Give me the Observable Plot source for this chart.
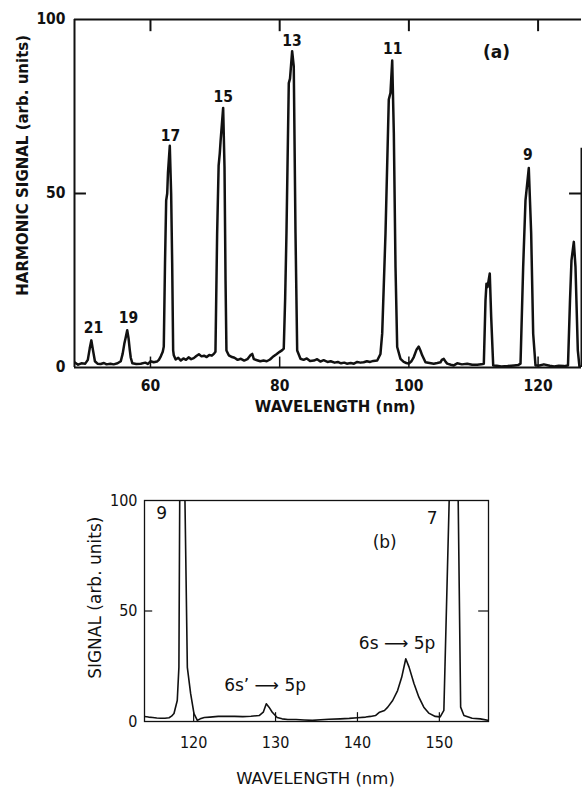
<!DOCTYPE html>
<html><head><meta charset="utf-8">
<script src="https://cdn.jsdelivr.net/npm/d3@7"></script>
<script src="https://cdn.jsdelivr.net/npm/@observablehq/plot@0.6"></script>
<style>
html,body{margin:0;padding:0;background:#fff;}
body{width:582px;height:789px;overflow:hidden;}
svg{display:block;}
</style></head><body><div id="a"></div><div id="b"></div>
<script>
// ---------- Panel (a) data ----------
const wavelengthA = [48.24,48.8,49.3,49.9,50.3,50.6,50.85,51.1,51.4,51.8,52.3,52.8,53.2,53.8,54.3,54.9,55.4,55.7,55.95,56.15,56.4,56.6,56.8,56.95,57.2,57.8,58.5,59.2,59.6,60.0,60.5,61.0,61.3,61.6,61.9,62.06,62.25,62.43,62.59,62.71,62.99,63.2,63.36,63.51,63.61,63.9,64.3,64.7,65.1,65.5,65.9,66.3,66.7,67.1,67.5,67.9,68.3,68.7,69.1,69.5,69.85,70.06,70.32,70.55,70.73,70.85,71.25,71.46,71.62,71.76,72.12,72.5,73.0,73.5,74.0,74.5,75.0,75.5,75.75,76.0,76.5,77.0,77.5,78.0,78.5,78.9,79.5,80.0,80.4,80.63,80.85,81.05,81.41,81.6,81.93,82.18,82.45,82.71,83.22,83.7,84.2,84.7,85.3,85.8,86.3,86.8,87.4,87.9,88.5,89.0,89.5,90.0,90.4,91.0,91.5,92.0,92.5,93.0,93.5,94.0,94.5,95.1,95.6,95.87,96.38,96.89,97.15,97.42,97.67,97.93,98.19,98.7,99.2,99.6,99.98,100.4,100.76,101.2,101.53,101.8,102.06,102.57,103.2,103.85,104.4,104.89,105.1,105.4,105.7,105.93,106.5,106.95,107.48,108.2,109.03,109.8,110.57,111.2,111.6,111.86,112.01,112.17,112.52,112.74,113.05,113.6,114.3,115.3,116.3,116.9,117.28,117.69,118.05,118.56,118.93,119.24,119.6,120.2,120.9,121.8,122.5,123.2,124.0,124.63,124.94,125.17,125.53,125.79,126.15,126.41,126.72];
const signalA = [1.5,0.8,1.2,1.1,2.2,5.5,7.8,5.0,1.8,1.1,1.0,1.3,0.9,1.1,0.9,1.2,1.8,4.0,6.8,8.5,10.7,8.5,5.0,2.8,1.2,1.0,1.1,1.4,1.0,1.8,1.5,1.7,2.2,3.2,4.5,6,30,48,50,56,63.7,50,30,4.9,3.5,2.3,2.8,2.0,2.6,2.2,2.9,2.4,2.7,3.3,3.8,3.2,3.4,3.0,3.6,3.4,4.0,4.5,38.6,58,61.6,65,74.6,57.7,25,4.9,3.5,3.1,2.8,2.2,2.5,2.0,2.4,3.6,3.9,2.4,2.1,1.8,2.0,1.8,2.3,3.0,3.8,4.5,5.0,5.4,20,38.5,81.7,83,90.9,86.5,38.6,4.9,2.5,2.2,2.6,1.9,2.0,2.4,1.7,2.1,1.6,1.8,1.4,1.6,1.2,1.4,1.1,1.3,1.1,1.6,1.4,1.5,1.8,1.6,1.9,2.0,3.9,9.8,38.5,77,78.9,88.2,67.3,28.9,5.9,2.5,1.6,1.3,1.1,1.8,3.0,5.2,6.0,4.8,3.5,1.5,1.3,1.1,1.3,1.5,2.2,2.5,1.6,1.1,0.8,0.6,1.2,0.9,1.1,0.8,0.8,0.9,1.1,19.3,24.1,23.1,27.0,14.5,0.6,0.5,0.3,0.4,0.6,0.7,1.1,28.9,48,57.3,38.5,9.7,0.6,0.6,0.9,0.5,0.3,0.5,0.4,0.6,19.3,30.8,36.1,28.9,4.9,0.1,0.3];
const xDomainA = [48.24, 126.72];
const xTicksA = [60, 80, 100, 120];
const yTicksA = [0, 50, 100];
const peakTextA = ["21", "19", "17", "15", "13", "11", "9"];
const peakXA = [51.19, 56.59, 63.10, 71.25, 81.91, 97.49, 118.41];
const peakYA = [11.2, 14.1, 66.6, 77.8, 93.8, 91.5, 61.1];
const panelTagA = ["(a)"];
const panelTagXA = [113.55];
const panelTagYA = [90.4];
const yLabelA = "HARMONIC SIGNAL (arb. units)";
const xLabelA = "WAVELENGTH (nm)";

// ---------- Panel (b) data ----------
const wavelengthB = [114.0,114.5,115.0,115.5,116.0,116.5,117.0,117.3,117.6,118.0,118.2,118.3,118.6,118.94,119.23,119.63,120.04,120.45,120.8,121.3,122,123,124,125,126,127,128,128.5,128.87,129.2,129.6,130.2,130.8,131.5,132.5,133.5,134.5,135.5,136.5,137.9,139,140,141,141.6,142.2,142.7,143.3,143.7,144.3,144.9,145.4,145.9,146.3,146.9,147.5,148.1,148.7,149.5,150.1,150.55,151.2,151.75,152.3,152.6,153.0,154.0,155.0,156.0];
const signalB = [2.3,2.0,1.8,1.6,1.5,1.5,1.7,2.4,3.6,9.5,24.5,100,260,100,24.5,12.7,3.6,0.5,1.2,1.8,2.0,2.3,2.3,2.3,2.2,2.4,2.7,4.2,8.0,6.5,4.2,1.8,1.2,0.9,0.9,0.7,0.5,0.8,1.0,1.2,1.4,1.7,2.0,2.3,2.7,4.2,5.0,6.5,9.5,14,20,28.4,24.6,17.2,11,6.5,3.8,2.3,2.1,5,100,300,100,6.5,2.7,1.5,1.2,0.5];
const xDomainB = [114, 156];
const xTicksB = [120, 130, 140, 150];
const yTicksB = [0, 50, 100];
const noteTextB = ["9", "(b)", "7", "6s’ ⟶ 5p", "6s ⟶ 5p"];
const noteXB = [116.1, 143.33, 149.11, 128.72, 144.84];
const noteYB = [94.1, 81.1, 91.7, 16.3, 35.2];
const yLabelB = "SIGNAL (arb. units)";
const xLabelB = "WAVELENGTH (nm)";

// ---------- Drawing ----------
const fontC = "'DejaVu Sans Condensed', 'DejaVu Sans', sans-serif";
const fontW = "'DejaVu Sans', sans-serif";
const dataA = wavelengthA.map((w, i) => ({w, s: signalA[i]}));
const dataB = wavelengthB.map((w, i) => ({w, s: signalB[i]}));

const plotA = Plot.plot({
  width: 582, height: 440,
  marginLeft: 74, marginRight: 1, marginTop: 19, marginBottom: 73,
  style: {fontFamily: fontC, fontWeight: "bold", fontSize: "15px", color: "#111", background: "#fff", overflow: "visible"},
  x: {domain: xDomainA},
  y: {domain: [0, 100]},
  marks: [
    Plot.axisX(xTicksA, {tickSize: 0, tickPadding: 12, label: null, fontSize: 15.5}),
    Plot.axisY(yTicksA, {tickSize: 0, tickPadding: 9, label: null, fontSize: 15.5}),
    Plot.ruleY([0, 100], {strokeWidth: 2}),
    Plot.ruleX([xDomainA[0]], {strokeWidth: 2}),
    Plot.ruleX([xDomainA[1]], {y1: 0, y2: 63, strokeWidth: 2}),
    Plot.ruleX(xTicksA, {y1: 100, y2: 96.5, strokeWidth: 2}),
    Plot.ruleX(xTicksA, {y1: 0, y2: 3, strokeWidth: 1.5}),
    Plot.ruleY([50], {x1: xDomainA[0], x2: xDomainA[0] + 1.85, strokeWidth: 2}),
    Plot.ruleY([50], {x1: xDomainA[1] - 1.85, x2: xDomainA[1], strokeWidth: 2}),
    Plot.line(dataA, {x: "w", y: "s", strokeWidth: 2.5, stroke: "#111", clip: true}),
    Plot.text(peakTextA, {x: peakXA, y: peakYA, text: d => d, fontSize: 15.5, fontWeight: "bold"}),
    Plot.text(panelTagA, {x: panelTagXA, y: panelTagYA, text: d => d, fontSize: 17, fontWeight: "bold", fontFamily: fontW}),
    Plot.text([yLabelA], {frameAnchor: "left", y: [58.1], dx: -51, rotate: -90, textAnchor: "middle", lineAnchor: "middle", fontSize: 15, fontWeight: "bold", fontFamily: fontW}),
    Plot.text([xLabelA], {frameAnchor: "bottom", x: [88.6], dy: 40, lineAnchor: "middle", textAnchor: "middle", fontSize: 15, fontWeight: "bold", fontFamily: fontW})
  ]
});
document.getElementById("a").appendChild(plotA);

const plotB = Plot.plot({
  width: 582, height: 349,
  marginLeft: 144, marginRight: 94, marginTop: 60, marginBottom: 68,
  style: {fontFamily: fontC, fontWeight: "normal", fontSize: "15px", color: "#111", background: "#fff", overflow: "visible"},
  x: {domain: xDomainB},
  y: {domain: [0, 100]},
  marks: [
    Plot.axisX(xTicksB, {tickSize: 0, tickPadding: 15, label: null, fontSize: 16}),
    Plot.axisY(yTicksB, {tickSize: 0, tickPadding: 7, label: null, fontSize: 16}),
    Plot.frame({strokeWidth: 1.3}),
    Plot.ruleX(xTicksB, {y1: 0, y2: 4, strokeWidth: 1.2}),
    Plot.ruleY([50], {x1: xDomainB[0], x2: xDomainB[0] + 1.0, strokeWidth: 1.2}),
    Plot.ruleY([50], {x1: xDomainB[1] - 1.2, x2: xDomainB[1], strokeWidth: 1.2}),
    Plot.line(dataB, {x: "w", y: "s", strokeWidth: 1.6, stroke: "#111", clip: true}),
    Plot.text(noteTextB, {x: noteXB, y: noteYB, text: d => d, fontSize: 17, fontFamily: fontW}),
    Plot.text([yLabelB], {frameAnchor: "left", y: [56], dx: -49, rotate: -90, textAnchor: "middle", lineAnchor: "middle", fontSize: 17, fontFamily: fontW}),
    Plot.text([xLabelB], {frameAnchor: "bottom", x: [134.88], dy: 57, lineAnchor: "middle", textAnchor: "middle", fontSize: 16.5, fontFamily: fontW})
  ]
});
document.getElementById("b").appendChild(plotB);
</script>
</body></html>
